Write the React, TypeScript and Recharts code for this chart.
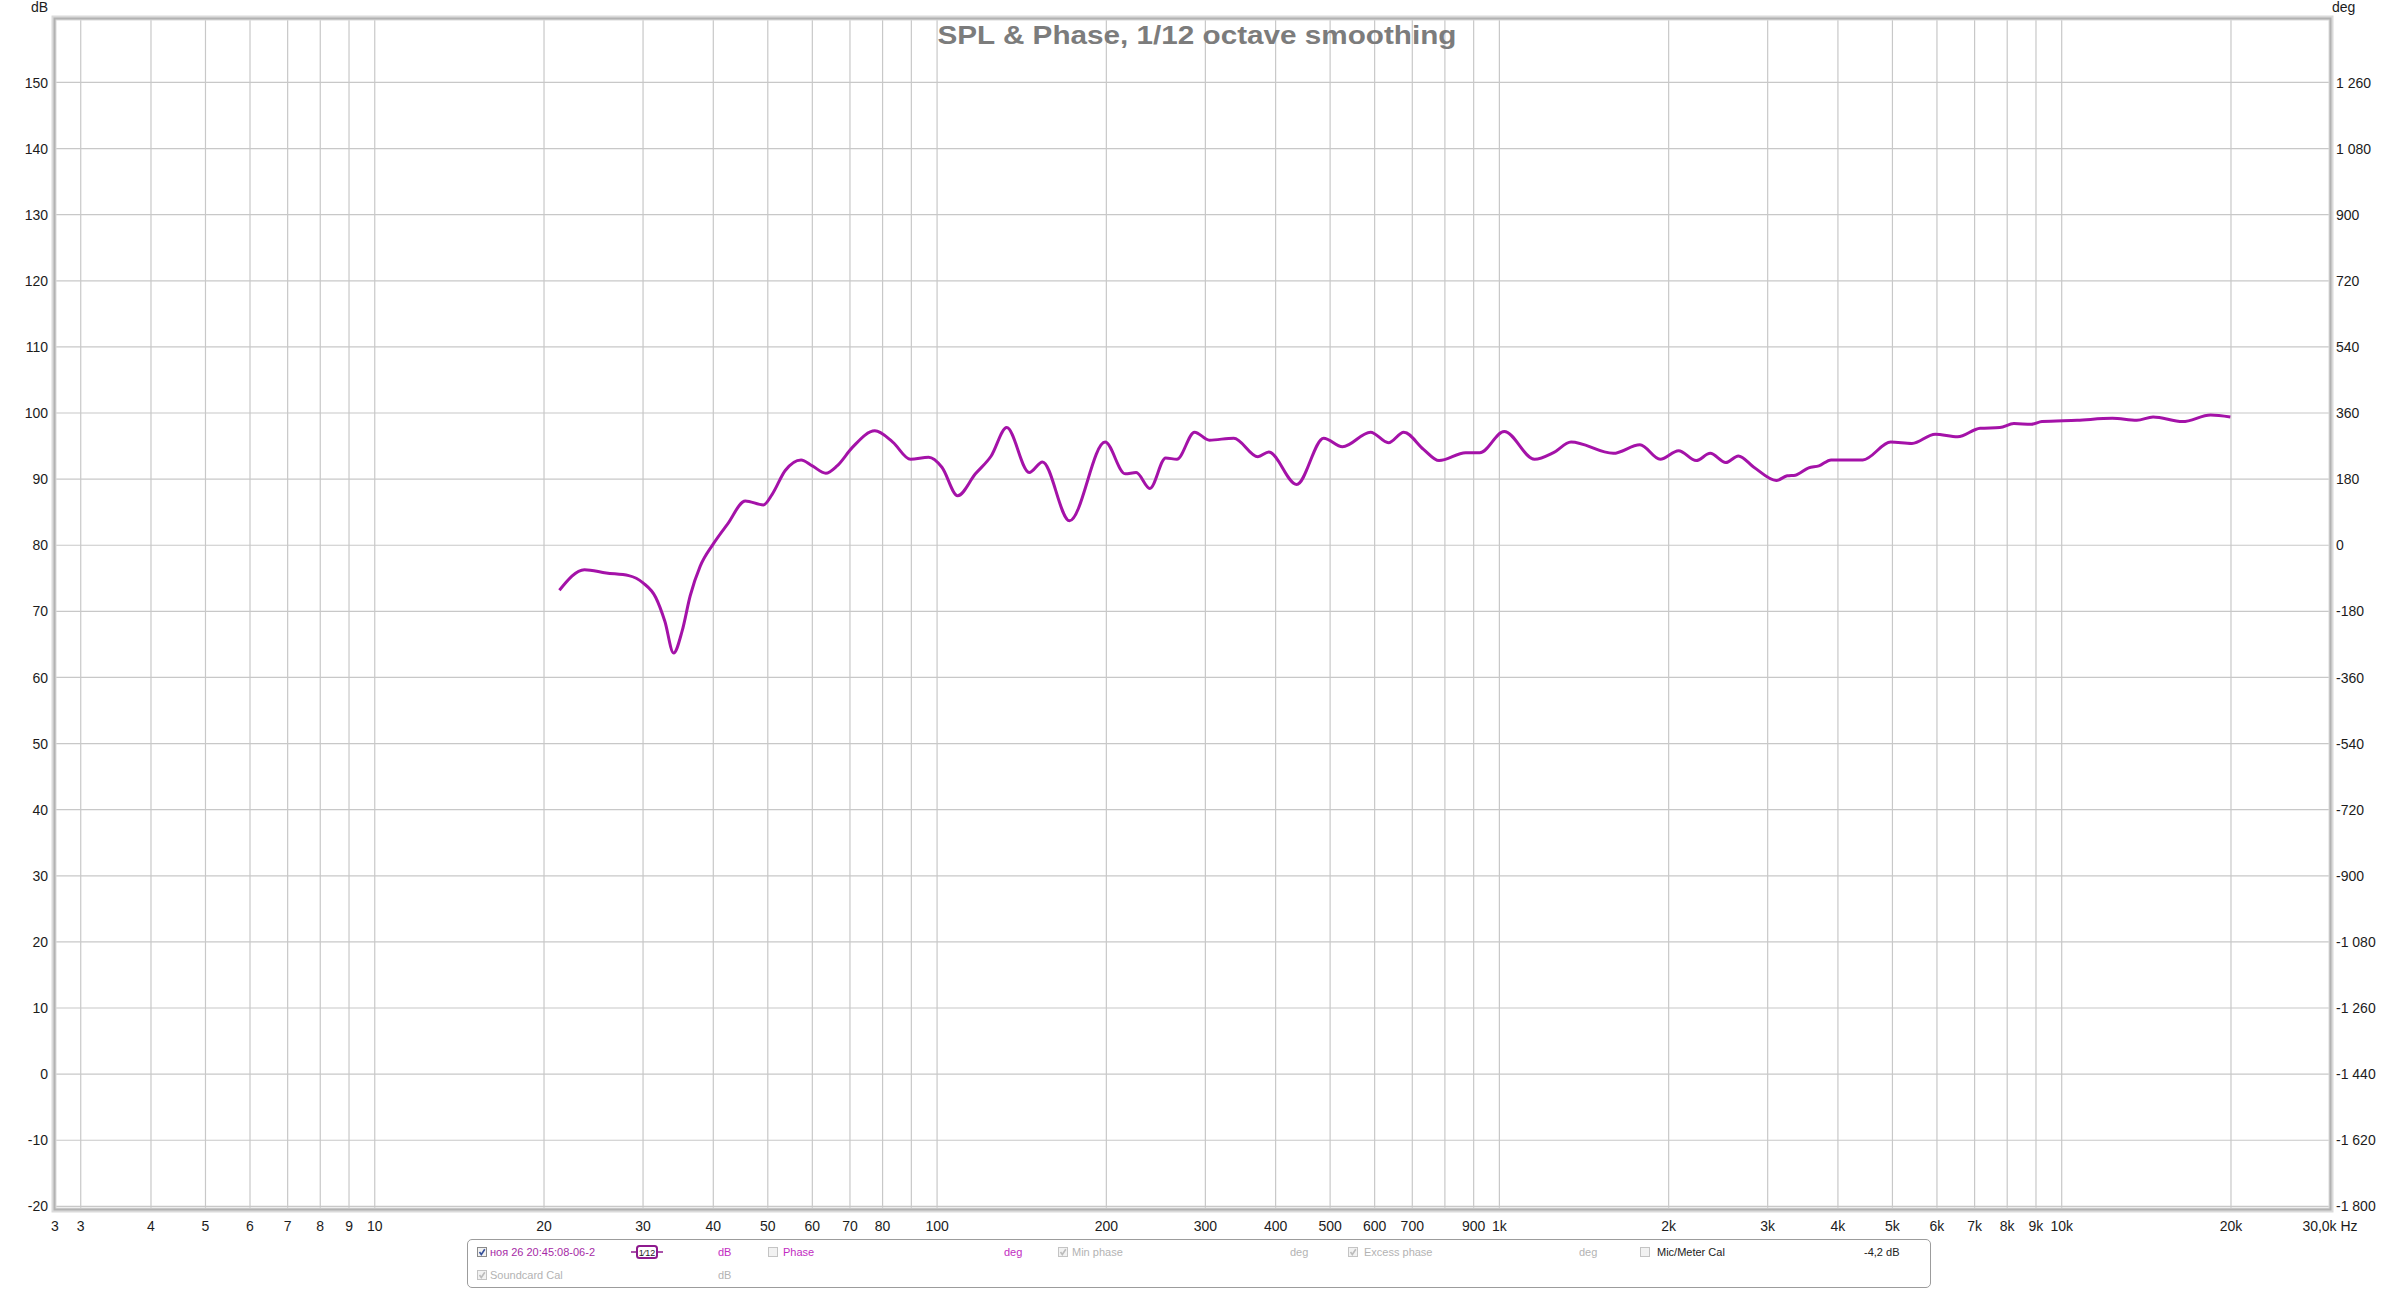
import React from 'react'
import { LineChart, Line, XAxis, YAxis, CartesianGrid } from 'recharts'

const FONT = '"Liberation Sans", Arial, sans-serif'

// measured SPL, 1/12 octave smoothed
const freqHz = [
  21.3, 23.6, 25.8, 28.3, 30, 31.6, 32.8, 34.0, 35.2, 36.4, 37.9, 40, 42.4, 45.6, 49.1, 50.9, 53.7, 57.3, 60,
  63.4, 66.4, 70.7, 77.5, 83.4, 89.7, 96.6, 102, 108.8, 117, 124.8, 133, 145.8, 154, 172, 199, 216, 226,
  239, 255, 267, 287, 305, 337, 372, 389, 436, 487, 526, 590, 635, 676, 733, 781, 871, 923, 1020, 1155,
  1248, 1341, 1594, 1778, 1932, 2083, 2239, 2371, 2527, 2661, 2835, 3108, 3250, 3360, 3548, 3700, 3890,
  4428, 4966, 5416, 5957, 6531, 7161, 7762, 8222, 8831, 9226, 10653, 12303, 13600, 14540, 16400, 18400, 19950,
]
const splDb = [
  73.2, 76.3, 75.8, 75.4, 74.3, 72.1, 68.5, 63.7, 67.0, 72.4, 76.8, 80.2, 83.2, 86.7, 86.1, 87.7, 91.3, 92.9, 92.0,
  90.9, 92.0, 94.8, 97.3, 95.6, 93.0, 93.3, 91.8, 87.5, 90.8, 93.5, 97.8, 91.0, 92.6, 83.7, 95.6, 90.8, 91.0,
  88.6, 93.2, 93.0, 97.1, 95.9, 96.2, 93.4, 94.1, 89.2, 96.2, 94.9, 97.1, 95.5, 97.1, 94.5, 92.8, 94.0, 94.0,
  97.2, 93.0, 94.0, 95.6, 93.9, 95.2, 93.0, 94.3, 92.8, 93.9, 92.5, 93.5, 91.8, 89.8, 90.5, 90.6, 91.7, 92.0, 92.9,
  92.9, 95.6, 95.4, 96.8, 96.4, 97.7, 97.8, 98.4, 98.3, 98.7, 98.9, 99.2, 98.9, 99.4, 98.7, 99.7, 99.4,
]

const freqTicks = [
  2.7, 3, 4, 5, 6, 7, 8, 9, 10, 20, 30, 40, 50, 60, 70, 80, 90, 100, 200, 300, 400, 500, 600, 700, 800,
  900, 1000, 2000, 3000, 4000, 5000, 6000, 7000, 8000, 9000, 10000, 20000, 30000,
]
const freqLabels = [
  '3', '3', '4', '5', '6', '7', '8', '9', '10', '20', '30', '40', '50', '60', '70', '80', '', '100', '200',
  '300', '400', '500', '600', '700', '', '900', '1k', '2k', '3k', '4k', '5k', '6k', '7k', '8k', '9k', '10k',
  '20k', '30,0k Hz',
]
const dbTicks = [-20, -10, 0, 10, 20, 30, 40, 50, 60, 70, 80, 90, 100, 110, 120, 130, 140, 150]
const degLabels = [
  '-1 800', '-1 620', '-1 440', '-1 260', '-1 080', '-900', '-720', '-540', '-360', '-180', '0', '180',
  '360', '540', '720', '900', '1 080', '1 260',
]

const XTick = (props: any) => {
  const { x, y, index } = props
  return (
    <text x={x} y={y} dy="0.71em" textAnchor="middle" fontSize={14} fill="#1c1c1c" fontFamily={FONT}>
      {freqLabels[index] ?? ''}
    </text>
  )
}

const LeftTick = (props: any) => {
  const { x, y, payload } = props
  return (
    <text x={x} y={y} dy="0.36em" textAnchor="end" fontSize={14} fill="#1c1c1c" fontFamily={FONT}>
      {payload.value}
    </text>
  )
}

const RightTick = (props: any) => {
  const { x, y, index } = props
  return (
    <text x={x} y={y} dy="0.36em" textAnchor="start" fontSize={14} fill="#1c1c1c" fontFamily={FONT}>
      {degLabels[index]}
    </text>
  )
}

const Box = ({ x, y, checked, tone }: { x: number; y: number; checked: boolean; tone: string }) => (
  <svg style={{ position: 'absolute', left: x, top: y - 5 }} width={10} height={10}>
    <rect x={0.5} y={0.5} width={9} height={9} fill="#f2f2f2" stroke={tone === 'blue' ? '#8a8a8a' : '#c4c4c4'} />
    {checked && (
      <path d="M2.5 5 L4.3 7.5 L7.8 2.2" fill="none" stroke={tone === 'blue' ? '#34509a' : '#bcbcbc'} strokeWidth={1.6} />
    )}
  </svg>
)

const Txt = ({ x, y, color, children }: { x: number; y: number; color: string; children: React.ReactNode }) => (
  <span style={{ position: 'absolute', left: x, top: y - 7, fontSize: 11, lineHeight: '14px', color, whiteSpace: 'nowrap' }}>
    {children}
  </span>
)

export default function App() {
  const data = freqHz.map((f, i) => ({ f, db: splDb[i] }))
  const r1 = 1252
  const r2 = 1275
  const mag = '#c22cc2'
  const grey = '#b3b3b3'
  return (
    <div style={{ position: 'absolute', left: 0, top: 0, width: 2400, height: 1289, background: '#fff', fontFamily: FONT }}>
      <LineChart width={2400} height={1289} data={data} margin={{ top: 19, right: 0, bottom: 50, left: 0 }}>
        <CartesianGrid yAxisId="db" stroke="#c8c8c8" strokeWidth={1.2} />
        <XAxis
          dataKey="f"
          type="number"
          scale="log"
          domain={[2.7, 30000]}
          allowDataOverflow
          ticks={freqTicks}
          interval={0}
          tick={<XTick />}
          tickLine={false}
          axisLine={false}
          tickSize={0}
          tickMargin={12}
          height={30}
        />
        <YAxis
          yAxisId="db"
          type="number"
          domain={[-20.4, 159.6]}
          allowDataOverflow
          ticks={dbTicks}
          interval={0}
          tick={<LeftTick />}
          tickLine={false}
          axisLine={false}
          tickSize={0}
          tickMargin={7}
          width={55}
        />
        <YAxis
          yAxisId="deg"
          orientation="right"
          type="number"
          domain={[-20.4, 159.6]}
          allowDataOverflow
          ticks={dbTicks}
          interval={0}
          tick={<RightTick />}
          tickLine={false}
          axisLine={false}
          tickSize={0}
          tickMargin={6}
          width={70}
        />
        <Line
          yAxisId="db"
          dataKey="db"
          type="monotone"
          stroke="#a412a8"
          strokeWidth={3}
          dot={false}
          isAnimationActive={false}
        />
      </LineChart>

      <svg style={{ position: 'absolute', left: 0, top: 0, pointerEvents: 'none' }} width={2400} height={1289}>
        <rect x={54} y={18} width={2277} height={1192} fill="none" stroke="#dadada" strokeWidth={5} />
        <rect x={54.5} y={18.5} width={2276} height={1191} fill="none" stroke="#b2b2b2" strokeWidth={2} />
        <text x={1197} y={44} textAnchor="middle" fontSize={26} fontWeight="bold" fill="#7c7c7c" fontFamily={FONT} textLength={519} lengthAdjust="spacingAndGlyphs">
          SPL &amp; Phase, 1/12 octave smoothing
        </text>
        <text x={48} y={12} textAnchor="end" fontSize={14} fill="#1c1c1c" fontFamily={FONT}>dB</text>
        <text x={2332} y={12} textAnchor="start" fontSize={14} fill="#1c1c1c" fontFamily={FONT}>deg</text>
      </svg>

      <div style={{ position: 'absolute', left: 467, top: 1239, width: 1462, height: 47, border: '1px solid #9c9c9c', borderRadius: 5 }} />
      <Box x={477} y={r1} checked tone="blue" />
      <Txt x={490} y={r1} color="#a62aa6">ноя 26 20:45:08-06-2</Txt>
      <svg style={{ position: 'absolute', left: 630, top: r1 - 7 }} width={34} height={14}>
        <line x1={1} y1={7} x2={33} y2={7} stroke="#8e1a8e" strokeWidth={1.5} />
        <rect x={7} y={1} width={20} height={12} rx={2.5} fill="#fff" stroke="#8e1a8e" strokeWidth={2} />
        <text x={17} y={10.5} textAnchor="middle" fontSize={9} fill="#222" fontFamily={FONT}>1⁄12</text>
      </svg>
      <Txt x={718} y={r1} color={mag}>dB</Txt>
      <Box x={768} y={r1} checked={false} tone="grey" />
      <Txt x={783} y={r1} color={mag}>Phase</Txt>
      <Txt x={1004} y={r1} color={mag}>deg</Txt>
      <Box x={1058} y={r1} checked tone="grey" />
      <Txt x={1072} y={r1} color={grey}>Min phase</Txt>
      <Txt x={1290} y={r1} color={grey}>deg</Txt>
      <Box x={1348} y={r1} checked tone="grey" />
      <Txt x={1364} y={r1} color={grey}>Excess phase</Txt>
      <Txt x={1579} y={r1} color={grey}>deg</Txt>
      <Box x={1640} y={r1} checked={false} tone="grey" />
      <Txt x={1657} y={r1} color="#222">Mic/Meter Cal</Txt>
      <Txt x={1864} y={r1} color="#222">-4,2 dB</Txt>
      <Box x={477} y={r2} checked tone="grey" />
      <Txt x={490} y={r2} color={grey}>Soundcard Cal</Txt>
      <Txt x={718} y={r2} color={grey}>dB</Txt>
    </div>
  )
}
